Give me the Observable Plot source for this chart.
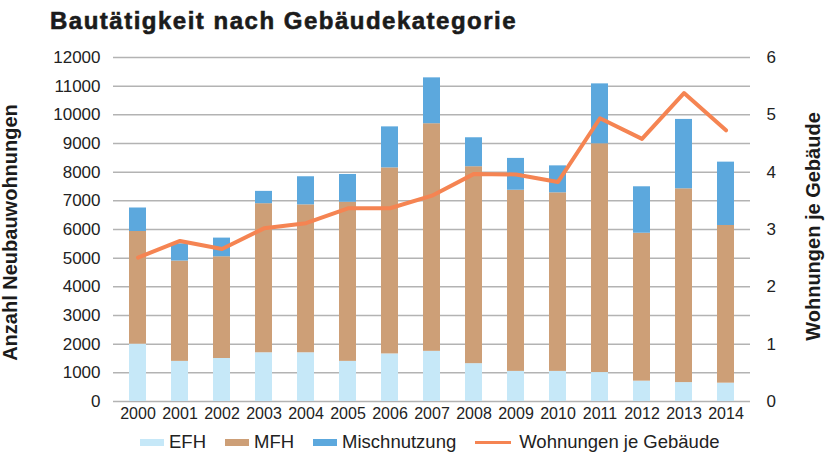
<!DOCTYPE html>
<html>
<head>
<meta charset="utf-8">
<script src="https://cdn.jsdelivr.net/npm/d3@7"></script>
<script src="https://cdn.jsdelivr.net/npm/@observablehq/plot@0.6"></script>
<style>
  html, body { margin: 0; padding: 0; background: #fff; }
  #wrap { position: relative; width: 835px; height: 452px; overflow: hidden; font-family: "Liberation Sans", Arial, sans-serif; color: #222; }
  #title { position: absolute; left: 50px; top: 9px; font-size: 24px; line-height: 24px; font-weight: 700; letter-spacing: 1.5px; color: #1b1b1b; -webkit-text-stroke: 0.6px #1b1b1b; white-space: nowrap; }
  #chart { position: absolute; left: 0; top: 0; }
  #legend { position: absolute; left: 140px; top: 433px; height: 18px; display: flex; align-items: center; font-size: 18.5px; line-height: 18px; color: #222; white-space: nowrap; }
  .item { display: flex; align-items: center; margin-right: 19px; }
  .sw { display: inline-block; width: 24px; height: 7px; margin-right: 5px; }
  .ln { display: inline-block; width: 36px; height: 3px; margin-right: 8px; }
</style>
</head>
<body>
<div id="wrap">
  <div id="chart"></div>
  <div id="title">Bautätigkeit nach Gebäudekategorie</div>
  <div id="legend"></div>
</div>
<script>
// ---- data ----
const years = [2000, 2001, 2002, 2003, 2004, 2005, 2006, 2007, 2008, 2009, 2010, 2011, 2012, 2013, 2014];
const seriesNames = ["EFH", "MFH", "Mischnutzung"];
const efh          = [2000, 1400, 1500, 1700, 1700, 1400, 1660, 1750, 1320, 1050, 1050, 1010, 710, 660, 640];
const mfh          = [3930, 3500, 3550, 5200, 5160, 5550, 6490, 7940, 6870, 6320, 6230, 7980, 5160, 6760, 5500];
const mischnutzung = [820, 600, 650, 430, 980, 970, 1430, 1600, 1010, 1110, 940, 2090, 1620, 2420, 2210];
const wohnungenJeGebaeude = [2.51, 2.80, 2.66, 3.02, 3.11, 3.37, 3.37, 3.59, 3.97, 3.96, 3.83, 4.94, 4.58, 5.38, 4.73];
const lineName = "Wohnungen je Gebäude";
const leftTicks = [0, 1000, 2000, 3000, 4000, 5000, 6000, 7000, 8000, 9000, 10000, 11000, 12000];
const rightTicks = [0, 1, 2, 3, 4, 5, 6];
const leftTitle = "Anzahl Neubauwohnungen";
const rightTitle = "Wohnungen je Gebäude";

// ---- styling ----
const colors = ["#c6e8f8", "#cd9f77", "#5ca8dd"];
const lineColor = "#f58452";
const font = "Liberation Sans, Arial, sans-serif";
const k = leftTicks[leftTicks.length - 1] / rightTicks[rightTicks.length - 1]; // dual-axis factor

const values = [efh, mfh, mischnutzung];
const bars = years.flatMap((yr, i) => seriesNames.map((s, j) => ({year: yr, type: s, value: values[j][i]})));
const linePts = years.map((yr, i) => ({year: yr, ratio: wohnungenJeGebaeude[i]}));

const plot = Plot.plot({
  width: 835,
  height: 430,
  marginTop: 57,
  marginBottom: 29,
  marginLeft: 113,
  marginRight: 85,
  style: {fontFamily: font, fontSize: "17px", color: "#222", background: "transparent"},
  x: {type: "band", domain: years, paddingInner: 0.6, paddingOuter: 0.3, axis: null},
  y: {domain: [0, 12000], axis: null},
  color: {domain: seriesNames, range: colors},
  marks: [
    Plot.gridY({ticks: leftTicks, stroke: "#b3b3b3", strokeOpacity: 1, strokeWidth: 1.5}),
    Plot.barY(bars, {x: "year", y: "value", fill: "type", order: seriesNames}),
    Plot.line(linePts, {x: "year", y: d => d.ratio * k, stroke: lineColor, strokeWidth: 4, strokeLinejoin: "round", strokeLinecap: "round"}),
    Plot.axisY({ticks: leftTicks, tickSize: 0, tickPadding: 13, fontSize: 17, label: null, tickFormat: d => String(d), fill: "#222"}),
    Plot.axisY({anchor: "right", ticks: rightTicks.map(v => v * k), tickSize: 0, tickPadding: 16, fontSize: 17, label: null, tickFormat: d => String(d / k), fill: "#222", textAnchor: "start"}),
    Plot.axisX({tickSize: 0, tickPadding: 6, fontSize: 16, label: null, tickFormat: d => String(d), fill: "#222"}),
    Plot.text([leftTitle], {text: d => d, frameAnchor: "left", textAnchor: "middle", lineAnchor: "middle", dx: -103, dy: 3, rotate: -90, fontSize: 20, fontWeight: "bold", fill: "#1b1b1b"}),
    Plot.text([rightTitle], {text: d => d, frameAnchor: "right", textAnchor: "middle", lineAnchor: "middle", dx: 63, dy: -3, rotate: -90, fontSize: 20, fontWeight: "bold", fill: "#1b1b1b"})
  ]
});
document.getElementById("chart").appendChild(plot);

// ---- legend ----
const legend = document.getElementById("legend");
seriesNames.forEach((s, i) => {
  const it = document.createElement("div");
  it.className = "item";
  it.innerHTML = `<span class="sw" style="background:${colors[i]}"></span><span>${s}</span>`;
  legend.appendChild(it);
});
const li = document.createElement("div");
li.className = "item";
li.innerHTML = `<span class="ln" style="background:${lineColor}"></span><span>${lineName}</span>`;
legend.appendChild(li);
</script>
</body>
</html>
